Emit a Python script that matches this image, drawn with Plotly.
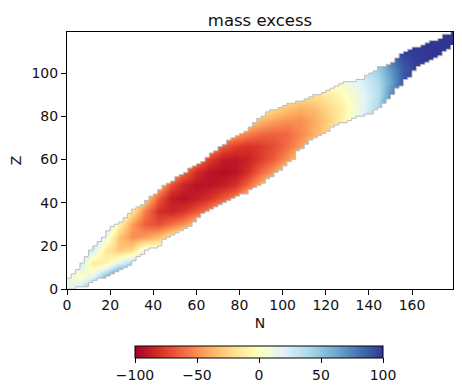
import plotly.graph_objects as go

N_grid = list(range(0, 186, 6))
Z_grid = list(range(0, 126, 6))

# first Z-grid row of each column, then the values
first_row = [0, 0, 0, 1, 1, 1, 2, 3, 4, 4, 5, 5, 6, 6, 7, 8, 8, 9, 10, 10, 11, 12, 12, 13, 13, 14, 15, 16, 17, 18, 18]
column_values = [
    [10, 15, 30],
    [35, -3, 30, 45],
    [70, 15, -15, 25, 45],
    [55, -8, -15, 12, 40],
    [90, 20, -30, -32, -8, 15],
    [90, 40, -22, -50, -45, -15, 10],
    [60, 15, -45, -65, -55, -25],
    [15, -35, -70, -80, -65, -35],
    [-15, -60, -85, -88, -70, -40],
    [0, -50, -80, -92, -85, -60, -30],
    [-30, -68, -88, -92, -82, -55],
    [-15, -55, -80, -92, -92, -75, -45],
    [-35, -68, -88, -94, -88, -65, -35],
    [-20, -55, -80, -92, -90, -75, -45],
    [-30, -62, -80, -86, -80, -55, -25],
    [-38, -62, -76, -76, -62, -38, -10],
    [-15, -45, -65, -70, -64, -45, -22],
    [-22, -48, -60, -62, -50, -32, -10],
    [-30, -46, -52, -50, -38, -18],
    [-10, -28, -40, -42, -35, -20],
    [-10, -25, -30, -25, -14, 3],
    [-2, -14, -14, -6, 8],
    [25, 6, 3, 7, 15, 25],
    [30, 20, 20, 25, 35],
    [55, 40, 35, 38, 45, 60],
    [85, 70, 62, 68, 80],
    [95, 90, 88, 95, 100],
    [100, 98, 98, 100],
    [100, 100, 100],
    [100, 100, 100],
    [100, 100, 100],
]

edge_N = list(range(0, 180, 2))
upper_Z = [5, 7, 9, 12, 15, 18, 20, 22, 24, 27, 29, 30, 31, 33, 35, 37, 38, 39, 41, 43, 44, 46, 48, 49, 50, 52, 53, 54, 56, 57,
           58, 59, 61, 63, 64, 66, 67, 69, 70, 71, 72, 73, 75, 77, 79, 80, 82, 83, 83, 84, 85, 86, 86, 87, 87, 88, 89, 90, 90, 91,
           92, 93, 94, 95, 96, 96, 96, 97, 97, 99, 100, 101, 103, 103, 104, 105, 107, 109, 110, 111, 112, 112, 113, 114, 115, 115, 116, 118, 118, 119]
lower_Z = [0, 0, 1, 1, 1, 3, 4, 5, 5, 6, 7, 8, 9, 10, 11, 13, 15, 16, 18, 19, 19, 20, 23, 24, 25, 26, 27, 28, 29, 31,
           33, 35, 36, 37, 38, 39, 40, 41, 42, 43, 44, 44, 46, 47, 48, 49, 51, 52, 54, 55, 57, 59, 60, 64, 65, 67, 69, 70, 71, 72,
           73, 75, 76, 77, 77, 78, 79, 80, 80, 81, 81, 83, 84, 86, 88, 90, 93, 94, 97, 98, 101, 103, 104, 105, 106, 107, 108, 110, 111, 113]

colorscale = ["#a50026", "#d73027", "#f46d43", "#fdae61", "#fee090", "#ffffbf",
              "#e0f3f8", "#abd9e9", "#74add1", "#4575b4", "#313695"]
tick_values = [-100, -50, 0, 50, 100]
tick_labels = ["\u2212100", "\u221250", "0", "50", "100"]

z = [[None] * len(N_grid) for _ in Z_grid]
for col, (start, vals) in enumerate(zip(first_row, column_values)):
    for k, v in enumerate(vals):
        if start + k < len(Z_grid):
            z[start + k][col] = v

L, R, T, B = 67, 453, 32, 289
W, H = 462, 392
font = "DejaVu Sans"
ink = "#111"

fig = go.Figure()
fig.add_trace(go.Heatmap(
    x=N_grid, y=Z_grid, z=z, zmin=-100, zmax=100, zsmooth="best", connectgaps=True,
    colorscale=colorscale, hoverinfo="skip",
    colorbar=dict(
        orientation="h", thickness=12, thicknessmode="pixels",
        len=248, lenmode="pixels",
        x=135 / W, xanchor="left",
        y=(H - 346) / H, yanchor="top", yref="paper",
        xpad=0, ypad=0,
        outlinewidth=1, outlinecolor="black",
        tickmode="array", tickvals=tick_values, ticktext=tick_labels,
        ticks="outside", ticklen=5, tickwidth=1, tickcolor="black",
        tickfont=dict(family=font, size=14, color=ink),
    ),
))
grey = "#bcbcbc"
fig.add_trace(go.Scatter(
    x=edge_N + [180, 180, 0], y=upper_Z + [upper_Z[-1], 120, 120], mode="lines", fill="toself",
    fillcolor="white", line=dict(width=0, shape="hv"), hoverinfo="skip", showlegend=False))
fig.add_trace(go.Scatter(
    x=edge_N + [180, 180, 0], y=lower_Z + [lower_Z[-1], -1, -1], mode="lines", fill="toself",
    fillcolor="white", line=dict(width=0, shape="hv"), hoverinfo="skip", showlegend=False))
fig.add_trace(go.Scatter(x=edge_N, y=upper_Z, mode="lines",
    line=dict(color=grey, width=1, shape="hv"), hoverinfo="skip", showlegend=False))
fig.add_trace(go.Scatter(x=edge_N, y=lower_Z, mode="lines",
    line=dict(color=grey, width=1, shape="hv"), hoverinfo="skip", showlegend=False))

axis = dict(showgrid=False, zeroline=False, showline=True, linecolor="black", linewidth=1,
            mirror=True, ticks="outside", ticklen=5, tickwidth=1, tickcolor="black",
            tickmode="linear", dtick=20, tick0=0, automargin=False,
            tickfont=dict(family=font, size=14, color=ink))
fig.update_layout(
    width=W, height=H, autosize=False,
    margin=dict(l=0, r=0, t=0, b=0),
    paper_bgcolor="white", plot_bgcolor="white",
    title=dict(text="mass excess", x=(L + R) / 2 / W, xanchor="center", xref="paper",
               y=1 - 20 / H, yanchor="middle",
               font=dict(family=font, size=16.5, color=ink)),
    xaxis=dict(axis, domain=[L / W, R / W], range=[0, 179], ticklabelstandoff=-2,
               title=dict(text="N", standoff=6, font=dict(family=font, size=14, color=ink))),
    yaxis=dict(axis, domain=[(H - B) / H, (H - T) / H], range=[0, 119],
               title=dict(text="Z", standoff=6, font=dict(family=font, size=14, color=ink))),
)
fig.write_html("out.html", config={"displayModeBar": False},
               post_script="document.body.style.margin='0';document.body.style.overflow='hidden';")
